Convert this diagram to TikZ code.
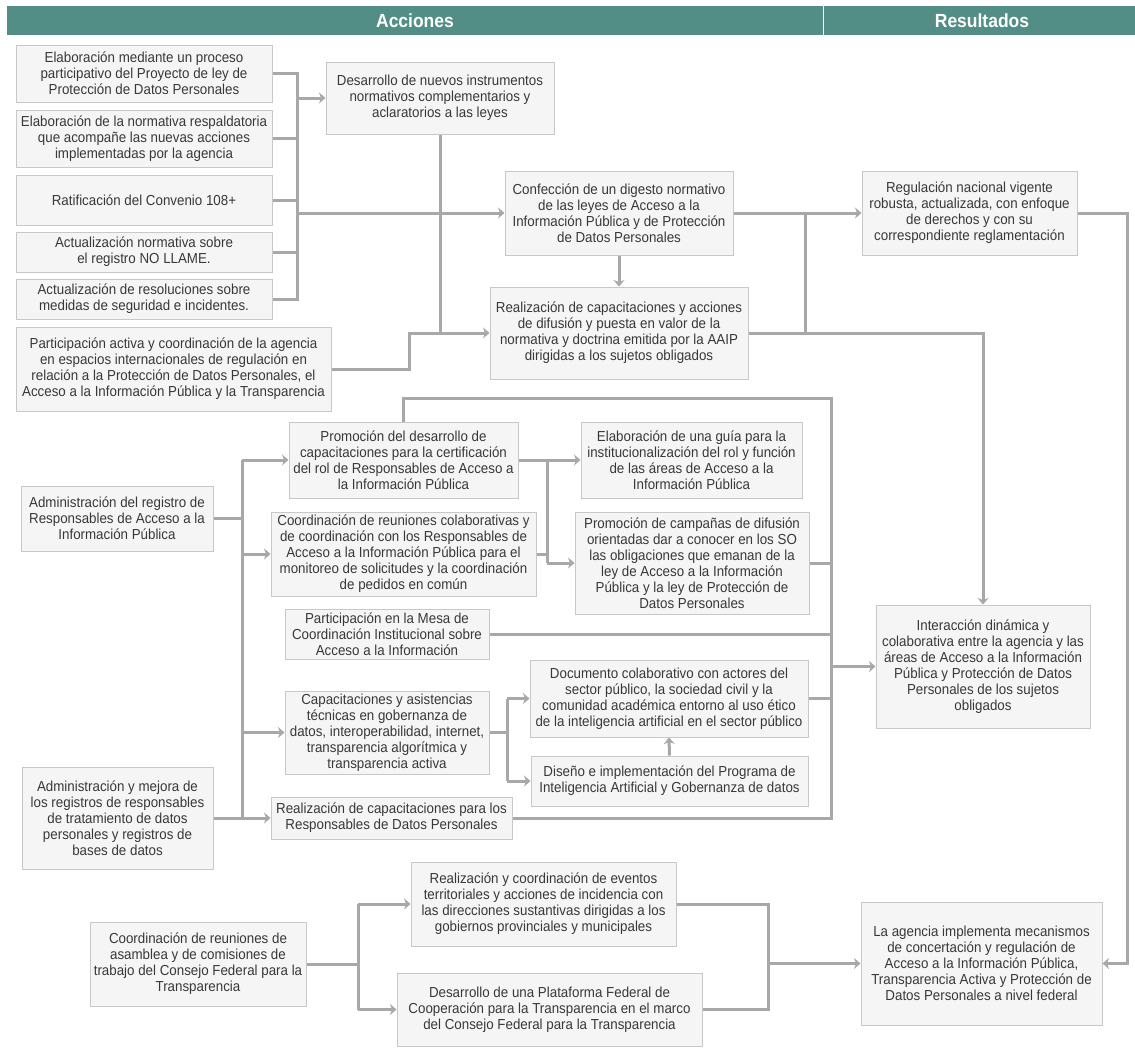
\documentclass[tikz,border=0pt]{standalone}
\usepackage{fontspec}
\setmainfont{Liberation Sans}[FakeStretch=0.92]
\usetikzlibrary{arrows.meta}
\definecolor{hdr}{HTML}{528E86}
\definecolor{bfill}{HTML}{F5F5F5}
\definecolor{bdraw}{HTML}{C8C8C8}
\definecolor{lcol}{HTML}{A8A8A8}
\definecolor{tcol}{HTML}{383838}
\tikzset{
  box/.style={draw=bdraw, fill=bfill, line width=1pt, inner sep=0pt, align=center,
    text=tcol, font=\fontsize{14.5}{16}\selectfont},
  conn/.style={draw=lcol, line width=3pt},
  arr/.style={conn, -{Stealth[length=6.5pt,width=11pt,inset=2pt]}},
  hdrtext/.style={text=white, font=\fontsize{19}{22}\selectfont\bfseries, inner sep=0pt},
}
\newcommand\bx[6]{%
  \pgfmathsetmacro\bxW{#4-#2}%
  \pgfmathsetmacro\bxH{#5-#3}%
  \node[box, minimum width=\bxW pt, minimum height=\bxH pt] (#1) at ({(#2+#4)/2},{(#3+#5)/2}) {#6};}
\begin{document}
\begin{tikzpicture}[x=1pt,y=-1pt]
\useasboundingbox[fill=white] (0,0) rectangle (1135,1047);
% header
\fill[hdr] (7,6) rectangle (1135,35);
\draw[white, line width=1pt] (823,6) -- (823,35);
\node[hdrtext] (hA) at (415,21) {Acciones};
\node[hdrtext] (hR) at (982,21) {Resultados};
% boxes
\bx{A1}{16}{45}{272}{102}{Elaboración mediante un proceso\\participativo del Proyecto de ley de\\Protección de Datos Personales}
\bx{A2}{16}{110}{272}{167}{Elaboración de la normativa respaldatoria\\que acompañe las nuevas acciones\\implementadas por la agencia}
\bx{A3}{16}{175}{272}{225}{Ratificación del Convenio 108+}
\bx{A4}{16}{232}{272}{272}{Actualización normativa sobre\\el registro NO LLAME.}
\bx{A5}{16}{279}{272}{319}{Actualización de resoluciones sobre\\medidas de seguridad e incidentes.}
\bx{A6}{16}{327}{331}{411}{Participación activa y coordinación de la agencia\\en espacios internacionales de regulación en\\relación a la Protección de Datos Personales, el\\Acceso a la Información Pública y la Transparencia}
\bx{B1}{326}{62}{554}{134}{Desarrollo de nuevos instrumentos\\normativos complementarios y\\aclaratorios a las leyes}
\bx{B2}{505}{171}{733}{255}{Confección de un digesto normativo\\de las leyes de Acceso a la\\Información Pública y de Protección\\de Datos Personales}
\bx{B3}{490}{287}{748}{379}{Realización de capacitaciones y acciones\\de difusión y puesta en valor de la\\normativa y doctrina emitida por la AAIP\\dirigidas a los sujetos obligados}
\bx{R1}{862}{171}{1077}{255}{Regulación nacional vigente\\robusta, actualizada, con enfoque\\de derechos y con su\\correspondiente reglamentación}
\bx{C1}{21}{486}{213}{551}{Administración del registro de\\Responsables de Acceso a la\\Información Pública}
\bx{C2}{289}{422}{518}{498}{Promoción del desarrollo de\\capacitaciones para la certificación\\del rol de Responsables de Acceso a\\la Información Pública}
\bx{C3}{581}{422}{802}{498}{Elaboración de una guía para la\\institucionalización del rol y función\\de las áreas de Acceso a la\\Información Pública}
\bx{C4}{271}{512}{536}{596}{Coordinación de reuniones colaborativas y\\de coordinación con los Responsables de\\Acceso a la Información Pública para el\\monitoreo de solicitudes y la coordinación\\de pedidos en común}
\bx{C5}{575}{512}{809}{614}{Promoción de campañas de difusión\\orientadas dar a conocer en los SO\\las obligaciones que emanan de la\\ley de Acceso a la Información\\Pública y la ley de Protección de\\Datos Personales}
\bx{C6}{285}{609}{489}{659}{Participación en la Mesa de\\Coordinación Institucional sobre\\Acceso a la Información}
\bx{C7}{285}{691}{489}{774}{Capacitaciones y asistencias\\técnicas en gobernanza de\\datos, interoperabilidad, internet,\\transparencia algorítmica y\\transparencia activa}
\bx{C8}{530}{660}{808}{737}{Documento colaborativo con actores del\\sector público, la sociedad civil y la\\comunidad académica entorno al uso ético\\de la inteligencia artificial en el sector público}
\bx{C9}{531}{756}{808}{806}{Diseño e implementación del Programa de\\Inteligencia Artificial y Gobernanza de datos}
\bx{C10}{271}{797}{512}{839}{Realización de capacitaciones para los\\Responsables de Datos Personales}
\bx{C11}{22}{767}{213}{869}{Administración y mejora de\\los registros de responsables\\de tratamiento de datos\\personales y registros de\\bases de datos}
\bx{R2}{876}{605}{1090}{728}{Interacción dinámica y\\colaborativa entre la agencia y las\\áreas de Acceso a la Información\\Pública y Protección de Datos\\Personales de los sujetos\\obligados}
\bx{D1}{90}{922}{306}{1006}{Coordinación de reuniones de\\asamblea y de comisiones de\\trabajo del Consejo Federal para la\\Transparencia}
\bx{D2}{411}{862}{676}{946}{Realización y coordinación de eventos\\territoriales y acciones de incidencia con\\las direcciones sustantivas dirigidas a los\\gobiernos provinciales y municipales}
\bx{D3}{397}{973}{702}{1046}{Desarrollo de una Plataforma Federal de\\Cooperación para la Transparencia en el marco\\del Consejo Federal para la Transparencia}
\bx{R3}{861}{902}{1102}{1025}{La agencia implementa mecanismos\\de concertación y regulación de\\Acceso a la Información Pública,\\Transparencia Activa y Protección de\\Datos Personales a nivel federal}
% bus coordinates
\coordinate (busA) at (297,0);
\coordinate (jA6) at (409,0);
\coordinate (busB) at (805,0);
\coordinate (busR) at (1127,0);
\coordinate (busC) at (242,0);
\coordinate (busD) at (831,0);
\coordinate (topD) at (0,398);
\coordinate (busE) at (547,0);
\coordinate (busF) at (507,0);
\coordinate (busG) at (358,0);
\coordinate (busH) at (768,0);
% group A
\draw[conn] (A1.east) -| (busA |- A5.east) -- (A5.east);
\draw[conn] (A2.east) -- (busA |- A2.east);
\draw[conn] (A3.east) -- (busA |- A3.east);
\draw[conn] (A4.east) -- (busA |- A4.east);
\draw[arr] (busA |- B1.west) -- (B1.west);
\draw[arr] (busA |- B2.west) -- (B2.west);
\draw[conn] (B1.south) -- (B1.south |- B3.west);
\draw[arr] (A6.east) -| (jA6 |- B3.west) -- (B3.west);
\draw[arr] (B2.south) -- (B3.north);
\draw[arr] (B2.east) -- (R1.west);
\draw[conn] (busB |- B2.east) -- (busB |- B3.east);
\draw[arr] (B3.east) -| (R2.north);
\draw[arr] (R1.east) -| (busR |- R3.east) -- (R3.east);
% group C
\draw[conn] (C1.east) -- (busC |- C1.east);
\draw[conn] (busC |- C2.west) -- (busC |- C10.west);
\draw[arr] (busC |- C2.west) -- (C2.west);
\draw[arr] (busC |- C4.west) -- (C4.west);
\draw[arr] (busC |- C7.west) -- (C7.west);
\draw[arr] (busC |- C10.west) -- (C10.west);
\draw[conn] (C11.east) -- (busC |- C11.east);
\draw[conn] (C2.north) |- (busD |- topD) -- (busD |- C10.east) -- (C10.east);
\draw[conn] (C5.east) -- (busD |- C5.east);
\draw[conn] (C6.east) -- (busD |- C6.east);
\draw[conn] (C8.east) -- (busD |- C8.east);
\draw[arr] (busD |- R2.west) -- (R2.west);
\draw[arr] (C2.east) -- (C3.west);
\draw[conn] (busE |- C2.east) -- (busE |- C5.west);
\draw[arr] (busE |- C5.west) -- (C5.west);
\draw[conn] (C4.east) -- (busE |- C4.east);
\draw[conn] (C7.east) -- (busF |- C7.east);
\draw[conn] (busF |- C8.west) -- (busF |- C9.west);
\draw[arr] (busF |- C8.west) -- (C8.west);
\draw[arr] (busF |- C9.west) -- (C9.west);
\draw[arr] (C9.north) -- (C8.south);
% group D
\draw[conn] (D1.east) -- (busG |- D1.east);
\draw[conn] (busG |- D2.west) -- (busG |- D3.west);
\draw[arr] (busG |- D2.west) -- (D2.west);
\draw[arr] (busG |- D3.west) -- (D3.west);
\draw[conn] (D2.east) -| (busH |- D3.east) -- (D3.east);
\draw[arr] (busH |- R3.west) -- (R3.west);
\end{tikzpicture}
\end{document}
